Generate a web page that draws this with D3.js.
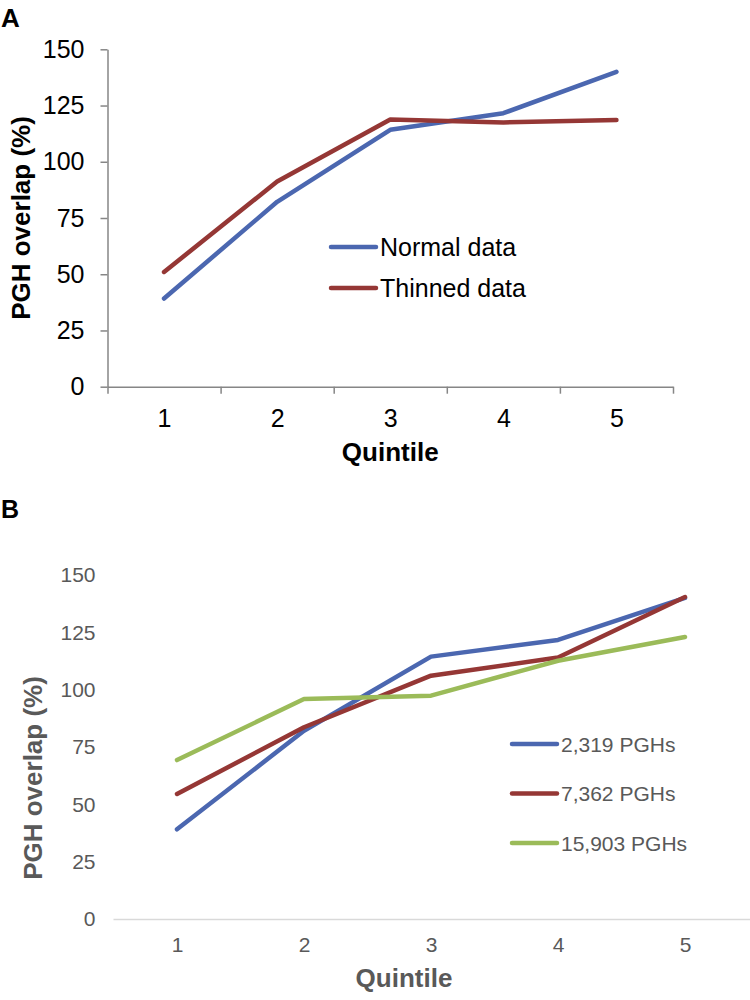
<!DOCTYPE html>
<html>
<head>
<meta charset="utf-8">
<script src="https://cdn.jsdelivr.net/npm/d3@7"></script>
<style>
  body { margin: 0; background: #fff; }
  text { font-family: "Liberation Sans", Arial, sans-serif; }
</style>
</head>
<body>
<svg id="chart" width="750" height="1000"></svg>
<script>
// data
const quintiles = [1, 2, 3, 4, 5]
const yTicks = [0, 25, 50, 75, 100, 125, 150]

const normalData = [39.2, 82.2, 114.2, 121.6, 140.0]
const thinnedData = [51.0, 91.2, 118.8, 117.5, 118.6]

const pgh2319 = [39.1, 82.1, 114.4, 121.7, 140.0]
const pgh7362 = [54.5, 83.6, 106.1, 114.0, 140.4]
const pgh15903 = [69.3, 95.9, 97.4, 112.6, 123.0]

const seriesA = [
    { name: 'Normal data', values: normalData, color: '#4b67b0' },
    { name: 'Thinned data', values: thinnedData, color: '#953735' }
]
const seriesB = [
    { name: '2,319 PGHs', values: pgh2319, color: '#4b67b0' },
    { name: '7,362 PGHs', values: pgh7362, color: '#953735' },
    { name: '15,903 PGHs', values: pgh15903, color: '#9bbb59' }
]

const svg = d3.select('#chart')
const fmt = d3.format('d')

function drawLines(g, series, x, y) {
    const line = d3.line()
        .x((d, i) => x(quintiles[i]))
        .y(d => y(d))
    g.selectAll('path.series')
        .data(series)
        .join('path')
        .attr('class', 'series')
        .attr('d', d => line(d.values))
        .attr('fill', 'none')
        .attr('stroke', d => d.color)
        .attr('stroke-width', 4.5)
        .attr('stroke-linecap', 'round')
        .attr('stroke-linejoin', 'round')
}

// ---------- panel A ----------
{
    const left = 107.5, right = 673, top = 49.3, bottom = 386.7
    const x = d3.scaleLinear().domain([0.5, 5.5]).range([left, right])
    const y = d3.scaleLinear().domain([0, 150]).range([bottom, top])
    const g = svg.append('g')

    // y axis
    g.append('g')
        .attr('transform', `translate(${left},0)`)
        .call(d3.axisLeft(y).tickValues(yTicks).tickSize(7).tickPadding(16).tickSizeOuter(0).tickFormat(fmt))
        .call(a => a.selectAll('path,line').attr('stroke', '#868686').attr('stroke-width', 1.5))
        .call(a => a.selectAll('text').attr('font-size', 25).attr('fill', '#000')
            .style('font-family', '"Liberation Sans", Arial, sans-serif'))

    // x axis: tick marks at category boundaries
    g.append('g')
        .attr('transform', `translate(0,${bottom})`)
        .call(d3.axisBottom(x).tickValues([0.5, 1.5, 2.5, 3.5, 4.5, 5.5]).tickSize(7).tickSizeOuter(0).tickFormat(''))
        .call(a => a.selectAll('path,line').attr('stroke', '#868686').attr('stroke-width', 1.5))

    // x labels
    g.append('g')
        .attr('transform', `translate(0,${bottom})`)
        .call(d3.axisBottom(x).tickValues(quintiles).tickSize(0).tickPadding(23).tickFormat(fmt))
        .call(a => a.select('.domain').remove())
        .call(a => a.selectAll('text').attr('font-size', 25).attr('fill', '#000')
            .style('font-family', '"Liberation Sans", Arial, sans-serif'))

    drawLines(g, seriesA, x, y)

    // legend
    const leg = g.selectAll('g.leg').data(seriesA).join('g')
        .attr('transform', (d, i) => `translate(331,${247 + i * 41})`)
    leg.append('line').attr('x1', 0).attr('x2', 45)
        .attr('stroke', d => d.color).attr('stroke-width', 4.5).attr('stroke-linecap', 'round')
    leg.append('text').attr('x', 49).attr('y', 8.5).attr('font-size', 25).attr('fill', '#000')
        .text(d => d.name)

    g.append('text').attr('x', (left + right) / 2).attr('y', 461)
        .attr('text-anchor', 'middle').attr('font-weight', 'bold').attr('font-size', 26)
        .text('Quintile')
    g.append('text').attr('transform', `translate(30,${(top + bottom) / 2}) rotate(-90)`)
        .attr('text-anchor', 'middle').attr('font-weight', 'bold').attr('font-size', 26)
        .text('PGH overlap (%)')
    g.append('text').attr('x', 1).attr('y', 27).attr('font-weight', 'bold').attr('font-size', 26)
        .text('A')
}

// ---------- panel B ----------
{
    const left = 113.5, right = 748.5, top = 575, bottom = 919
    const x = d3.scaleLinear().domain([0.5, 5.5]).range([left, right])
    const y = d3.scaleLinear().domain([0, 150]).range([bottom, top])
    const g = svg.append('g')

    // y labels only (no axis line)
    g.append('g')
        .attr('transform', `translate(${left},0)`)
        .call(d3.axisLeft(y).tickValues(yTicks).tickSize(0).tickPadding(18).tickFormat(fmt))
        .call(a => a.select('.domain').remove())
        .call(a => a.selectAll('text').attr('font-size', 21).attr('fill', '#595959')
            .style('font-family', '"Liberation Sans", Arial, sans-serif'))

    // x axis
    g.append('g')
        .attr('transform', `translate(0,${bottom})`)
        .call(d3.axisBottom(x).tickValues(quintiles).tickSize(0).tickPadding(18).tickSizeOuter(0).tickFormat(fmt))
        .call(a => a.select('.domain').attr('stroke', '#d9d9d9').attr('stroke-width', 1.5)
            .attr('d', `M${left},0.5H750`))
        .call(a => a.selectAll('text').attr('font-size', 21).attr('fill', '#595959')
            .style('font-family', '"Liberation Sans", Arial, sans-serif'))

    drawLines(g, seriesB, x, y)

    const leg = g.selectAll('g.leg').data(seriesB).join('g')
        .attr('transform', (d, i) => `translate(512,${744 + i * 49.5})`)
    leg.append('line').attr('x1', 0).attr('x2', 45)
        .attr('stroke', d => d.color).attr('stroke-width', 4.5).attr('stroke-linecap', 'round')
    leg.append('text').attr('x', 49).attr('y', 7.5).attr('font-size', 21).attr('fill', '#595959')
        .text(d => d.name)

    g.append('text').attr('x', 404).attr('y', 987)
        .attr('text-anchor', 'middle').attr('font-weight', 'bold').attr('font-size', 26)
        .attr('fill', '#595959')
        .text('Quintile')
    g.append('text').attr('transform', 'translate(42,778) rotate(-90)')
        .attr('text-anchor', 'middle').attr('font-weight', 'bold').attr('font-size', 26)
        .attr('fill', '#595959')
        .text('PGH overlap (%)')
    g.append('text').attr('x', 1).attr('y', 518).attr('font-weight', 'bold').attr('font-size', 25)
        .text('B')
}
</script>
</body>
</html>
